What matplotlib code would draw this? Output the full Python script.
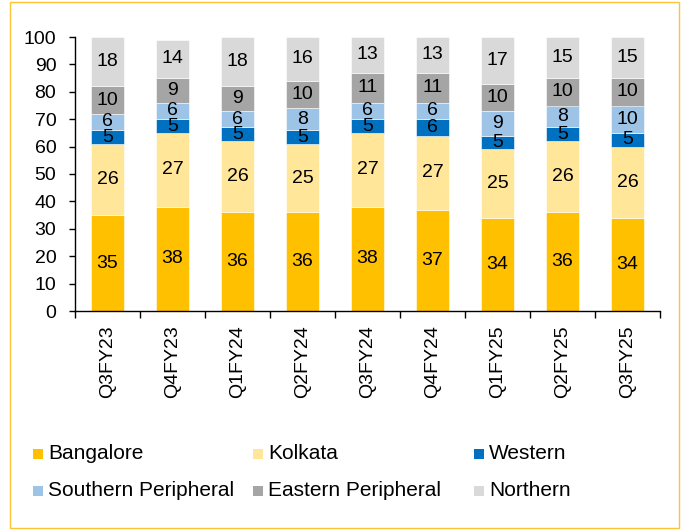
import matplotlib
matplotlib.use("Agg")
import matplotlib.pyplot as plt
from matplotlib.patches import Rectangle
import numpy as np

plt.rcParams['font.family'] = ['Liberation Sans', 'DejaVu Sans']

categories = ["Q3FY23", "Q4FY23", "Q1FY24", "Q2FY24", "Q3FY24", "Q4FY24", "Q1FY25", "Q2FY25", "Q3FY25"]
bangalore = [35, 38, 36, 36, 38, 37, 34, 36, 34]
kolkata = [26, 27, 26, 25, 27, 27, 25, 26, 26]
western = [5, 5, 5, 5, 5, 6, 5, 5, 5]
southern = [6, 6, 6, 8, 6, 6, 9, 8, 10]
eastern = [10, 9, 9, 10, 11, 11, 10, 10, 10]
northern = [18, 14, 18, 16, 13, 13, 17, 15, 15]

series_names = ["Bangalore", "Kolkata", "Western", "Southern Peripheral", "Eastern Peripheral", "Northern"]
series = [bangalore, kolkata, western, southern, eastern, northern]
colors = ["#FFC000", "#FFE699", "#0070C0", "#9DC3E6", "#A5A5A5", "#D9D9D9"]

fig = plt.figure(figsize=(6.85, 5.3), dpi=100)
ax = fig.add_axes([75/685, 1-311/530, 585/685, 274/530])

x = np.arange(len(categories))
bottom = np.zeros(len(categories))
for vals, col in zip(series, colors):
    v = np.array(vals, dtype=float)
    ax.bar(x, v, bottom=bottom, width=0.5, color=col, edgecolor='white', linewidth=0.4, zorder=2)
    for xi, b, h in zip(x, bottom, v):
        ax.text(xi, b + h/2, str(int(h)), ha='center', va='center', fontsize=14, color='black', zorder=3)
    bottom += v

ax.set_xlim(-0.5, len(categories) - 0.5)
ax.set_ylim(0, 100)
ax.set_yticks(range(0, 101, 10))
ax.tick_params(axis='y', labelsize=14, direction='out', length=4.5, width=1, pad=9)
ax.set_xticks(x)
ax.set_xticklabels(categories, rotation=90, fontsize=14)
ax.tick_params(axis='x', length=0, pad=10)
ax.set_xticks(np.arange(-0.5, len(categories)), minor=True)
ax.tick_params(axis='x', which='minor', length=5, width=1, direction='out')
for s in ['top', 'right']:
    ax.spines[s].set_visible(False)
ax.spines['left'].set_linewidth(1)
ax.spines['bottom'].set_linewidth(1)

# legend (manual)
leg_x = [33, 253, 474]
leg_y = [453.5, 490.5]
for i, (name, col) in enumerate(zip(series_names, colors)):
    r, c = divmod(i, 3)
    px, py = leg_x[c], leg_y[r]
    fig.patches.append(Rectangle((px/685, 1-(py+5)/530), 10/685, 10/530,
                                 transform=fig.transFigure, facecolor=col, edgecolor='none'))
    fig.text((px+15)/685, 1-py/530, name, fontsize=15, va='center', ha='left')

# border
fig.patches.append(Rectangle((10/685, 2/530), 669/685, 526/530, transform=fig.transFigure,
                             facecolor='none', edgecolor='#FBC535', linewidth=1))

fig.savefig("out.png", dpi=100)
